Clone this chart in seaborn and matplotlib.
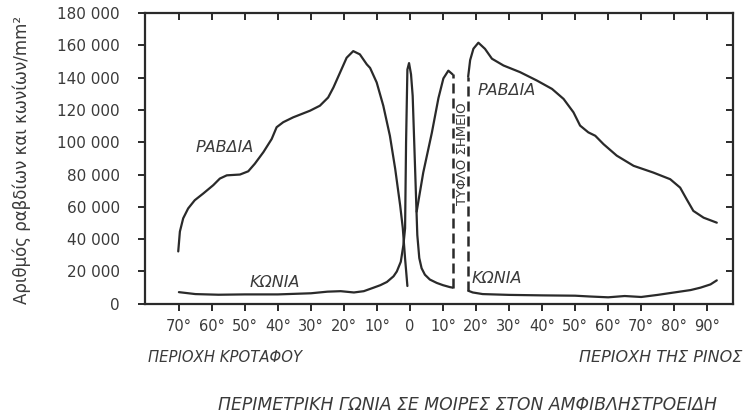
import numpy as np
import matplotlib
matplotlib.use("Agg")
import matplotlib.pyplot as plt
import seaborn as sns
import pandas as pd

# angle in degrees: negative = temporal side, positive = nasal side
rods_left_deg = [-70.2, -69.7, -68.7, -67.2, -65.2, -62.6, -59.6, -57.6, -55.5, -51.5, -49, -47,
                 -44.4, -41.9, -40.4, -38.4, -35.4, -30.3, -27.3, -24.8, -23.2, -21.2, -19.2, -17.2,
                 -15.2, -13.1, -12.1, -10.1, -8.1, -6.1, -4.5, -3.0, -2.2, -1.5, -0.8]
rods_left = [32400, 44700, 52900, 59000, 64100, 68300, 73400, 77500, 79500, 80000, 82000, 86700,
             93900, 102000, 109300, 112400, 115400, 119500, 122600, 127700, 133900, 143100, 152300, 156400,
             154400, 148200, 146000, 137000, 122600, 104000, 83600, 61000, 47000, 28000, 11000]

rods_mid_deg = [2.0, 4.0, 6.6, 8.6, 10.1, 11.6, 12.9]
rods_mid = [57000, 81200, 105800, 127300, 139500, 144300, 142000]

rods_right_deg = [17.6, 18.2, 19.2, 20.7, 22.7, 24.8, 28.3, 33.3, 38.4, 43, 46.5, 49.5, 51.5, 54,
                  56.1, 58.6, 62.6, 67.7, 73.7, 78.8, 81.8, 83.8, 85.8, 88.9, 92.9]
rods_right = [140500, 150800, 157900, 161600, 157800, 151700, 147500, 143400, 138200, 133000, 126800,
              118500, 110300, 106100, 104000, 98800, 91700, 85400, 81200, 77100, 71900, 64600, 57500,
              53300, 50200]

cones_left_deg = [-70, -65, -58, -50, -40, -30, -25, -21, -17, -14, -11, -9, -7, -5, -4, -2.8, -2.0,
                  -1.5, -1.2, -0.8, -0.3, 0.3, 0.8, 1.3, 1.8, 2.2, 2.8, 3.5, 4.5, 6, 8.1, 10, 12.1, 12.9]
cones_left = [7200, 6000, 5600, 5800, 5800, 6500, 7500, 7800, 7000, 7800, 10000, 11500, 13500, 17000,
              20000, 26000, 36500, 46700, 100000, 145000, 149000, 142000, 128700, 98000, 67000, 42600,
              28300, 22000, 18000, 15000, 12900, 11500, 10300, 10000]

cones_right_deg = [17.7, 19, 22, 30, 40, 50, 54.5, 60, 65, 70, 75, 80, 85, 88, 91, 92.9]
cones_right = [8000, 7000, 6000, 5500, 5200, 5000, 4500, 4000, 4800, 4200, 5500, 7000, 8500, 10000,
               12000, 14500]

blind_deg = [12.9, 17.7]
blind_low = [10000, 8000]
blind_high = [142000, 140500]

xticks = [-70, -60, -50, -40, -30, -20, -10, 0, 10, 20, 30, 40, 50, 60, 70, 80, 90]
xtick_labels = ["70°", "60°", "50°", "40°", "30°", "20°", "10°", "0", "10°", "20°", "30°",
                "40°", "50°", "60°", "70°", "80°", "90°"]
yticks = [0, 20000, 40000, 60000, 80000, 100000, 120000, 140000, 160000, 180000]
ytick_labels = ["0", "20 000", "40 000", "60 000", "80 000", "100 000", "120 000", "140 000",
                "160 000", "180 000"]

sns.set_style("ticks")
plt.rcParams["font.family"] = ["DejaVu Sans"]

fig = plt.figure(figsize=(7.43, 4.19), dpi=100)
ax = fig.add_axes([0.195, 0.275, 0.7915, 0.694])

ink = "#2a2a2a"
grey = "#3a3a3a"
segments = [(rods_left_deg, rods_left), (rods_mid_deg, rods_mid), (rods_right_deg, rods_right),
            (cones_left_deg, cones_left), (cones_right_deg, cones_right)]
for xs, ys in segments:
    df = pd.DataFrame({"deg": xs, "n": ys})
    sns.lineplot(data=df, x="deg", y="n", sort=False, estimator=None, color=ink, lw=1.6, ax=ax)

for i in range(len(blind_deg)):
    ax.plot([blind_deg[i], blind_deg[i]], [blind_low[i], blind_high[i]], color=ink, lw=1.8,
            ls=(0, (4, 2)))

ax.set_xlim(-80.3, 97.8)
ax.set_ylim(0, 180000)
ax.set_xticks(xticks)
ax.set_xticklabels(xtick_labels, fontsize=10.5, color=grey)
ax.set_yticks(yticks)
ax.set_yticklabels(ytick_labels, fontsize=11, color=grey)
ax.set_xlabel("")
ax.set_ylabel("")

for s in ax.spines.values():
    s.set_linewidth(1.6)
    s.set_color(ink)
ax.tick_params(axis="both", which="both", color=ink, width=1.4, length=5)
ax.tick_params(axis="x", direction="out", pad=6, top=True)
ax.tick_params(axis="y", direction="out", right=True, pad=13)
# ticks on top and right spines point inwards
for t in ax.xaxis.get_major_ticks():
    t.tick2line.set_marker(3)
for t in ax.yaxis.get_major_ticks():
    t.tick2line.set_marker(0)

txt = dict(color=grey, style="italic")
ax.text(-56, 96500, "ΡΑΒΔΙΑ", fontsize=11.5, ha="center", va="center", **txt)
ax.text(20.3, 132000, "ΡΑΒΔΙΑ", fontsize=11.5, ha="left", va="center", **txt)
ax.text(-41, 13000, "ΚΩΝΙΑ", fontsize=11.5, ha="center", va="center", **txt)
ax.text(18.7, 15500, "ΚΩΝΙΑ", fontsize=11.5, ha="left", va="center", **txt)
ax.text(15.8, 93000, "ΤΥΦΛΟ ΣΗΜΕΙΟ", fontsize=9.5, rotation=90, ha="center", va="center",
        color=grey)

fig.text(22 / 743, 1 - 160 / 419, "Αριθμός ραβδίων και κωνίων/mm²", fontsize=12, rotation=90,
         ha="center", va="center", color=grey)
fig.text(148 / 743, 1 - 357 / 419, "ΠΕΡΙΟΧΗ ΚΡΟΤΑΦΟΥ", fontsize=10.7, ha="left", va="center", **txt)
fig.text(742 / 743, 1 - 357 / 419, "ΠΕΡΙΟΧΗ ΤΗΣ ΡΙΝΟΣ", fontsize=11.5, ha="right", va="center", **txt)
fig.text(468 / 743, 1 - 405 / 419, "ΠΕΡΙΜΕΤΡΙΚΗ ΓΩΝΙΑ ΣΕ ΜΟΙΡΕΣ ΣΤΟΝ ΑΜΦΙΒΛΗΣΤΡΟΕΙΔΗ",
         fontsize=12.4, ha="center", va="center", **txt)

fig.savefig("out.png", dpi=100)
